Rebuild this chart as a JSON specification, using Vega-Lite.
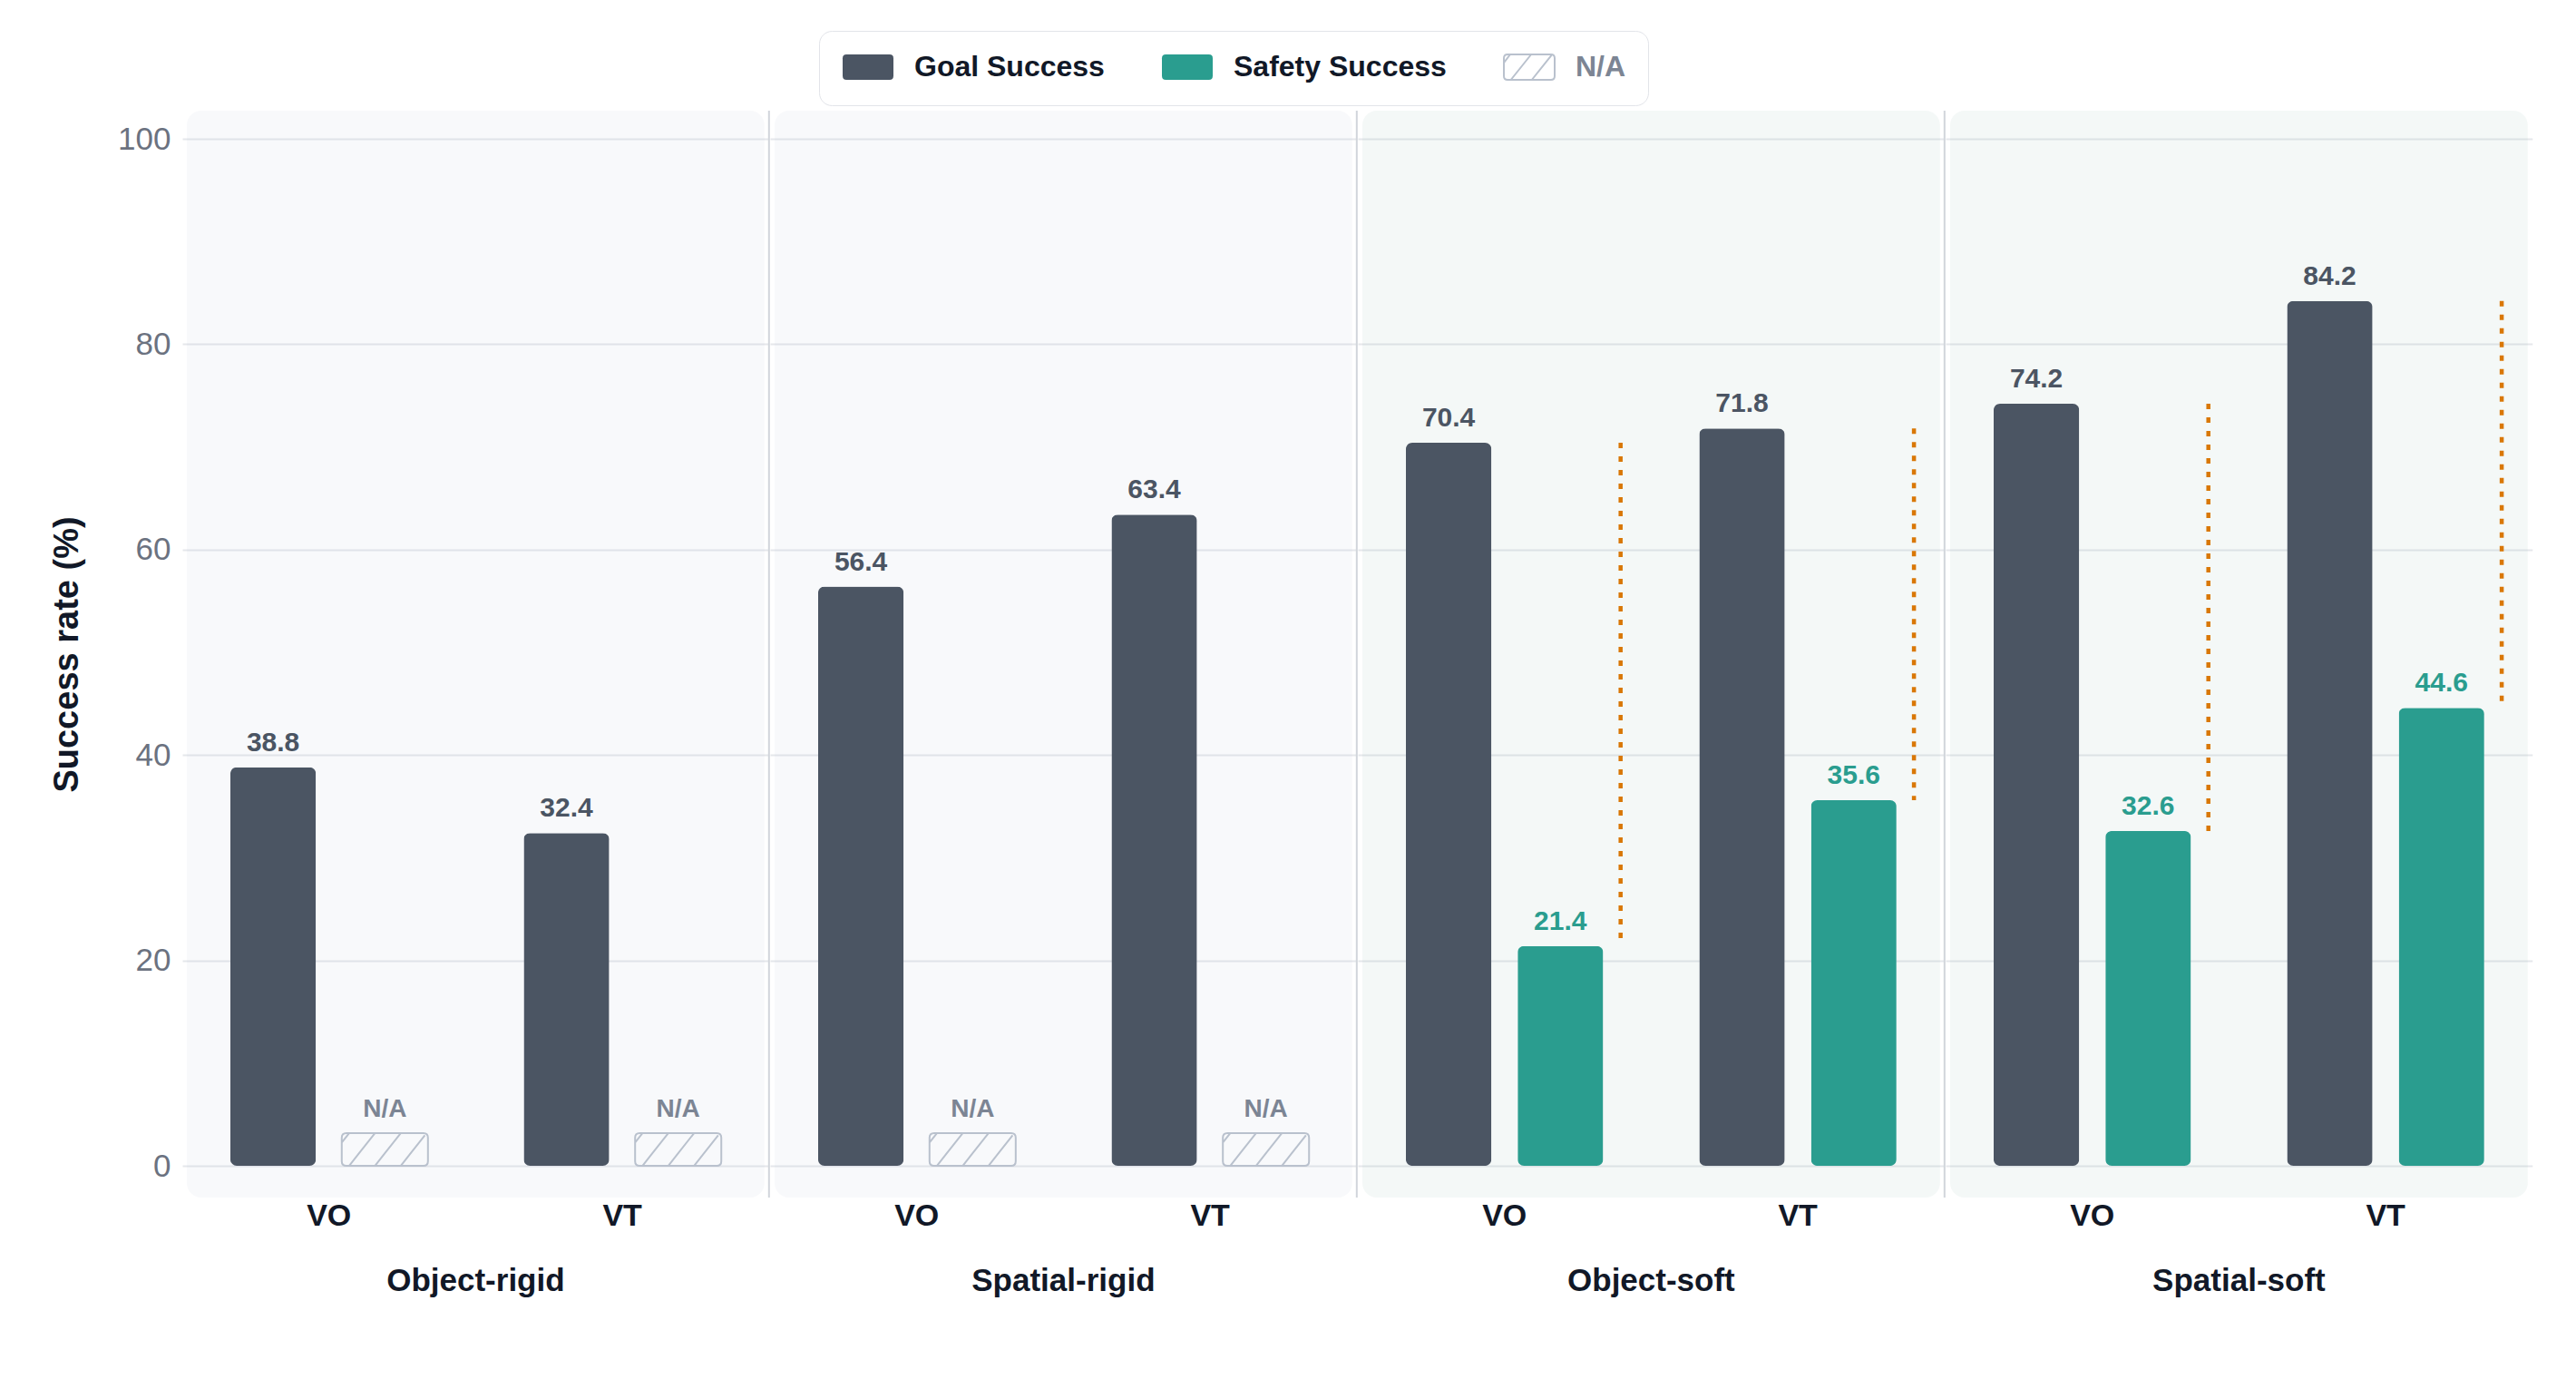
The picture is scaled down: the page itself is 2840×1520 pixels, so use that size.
{
  "$schema": "https://vega.github.io/schema/vega-lite/v6.json",
  "background": "#ffffff",
  "padding": {"left": 55, "top": 33, "right": 40, "bottom": 20},
  "config": {
    "font": "Liberation Sans",
    "view": {"stroke": null}
  },
  "data": {
    "values": [
      {"kind": "bar", "category": "Object-rigid", "variant": "VO", "series": "Goal Success", "value": 38.8},
      {"kind": "bar", "category": "Object-rigid", "variant": "VO", "series": "Safety Success", "value": null},
      {"kind": "bar", "category": "Object-rigid", "variant": "VT", "series": "Goal Success", "value": 32.4},
      {"kind": "bar", "category": "Object-rigid", "variant": "VT", "series": "Safety Success", "value": null},
      {"kind": "bar", "category": "Spatial-rigid", "variant": "VO", "series": "Goal Success", "value": 56.4},
      {"kind": "bar", "category": "Spatial-rigid", "variant": "VO", "series": "Safety Success", "value": null},
      {"kind": "bar", "category": "Spatial-rigid", "variant": "VT", "series": "Goal Success", "value": 63.4},
      {"kind": "bar", "category": "Spatial-rigid", "variant": "VT", "series": "Safety Success", "value": null},
      {"kind": "bar", "category": "Object-soft", "variant": "VO", "series": "Goal Success", "value": 70.4},
      {"kind": "bar", "category": "Object-soft", "variant": "VO", "series": "Safety Success", "value": 21.4},
      {"kind": "bar", "category": "Object-soft", "variant": "VT", "series": "Goal Success", "value": 71.8},
      {"kind": "bar", "category": "Object-soft", "variant": "VT", "series": "Safety Success", "value": 35.6},
      {"kind": "bar", "category": "Spatial-soft", "variant": "VO", "series": "Goal Success", "value": 74.2},
      {"kind": "bar", "category": "Spatial-soft", "variant": "VO", "series": "Safety Success", "value": 32.6},
      {"kind": "bar", "category": "Spatial-soft", "variant": "VT", "series": "Goal Success", "value": 84.2},
      {"kind": "bar", "category": "Spatial-soft", "variant": "VT", "series": "Safety Success", "value": 44.6},
      {"kind": "panel", "category": "Object-rigid", "family": "rigid", "lo": "VO", "hi": "VT", "sep": true},
      {"kind": "panel", "category": "Spatial-rigid", "family": "rigid", "lo": "VO", "hi": "VT", "sep": true},
      {"kind": "panel", "category": "Object-soft", "family": "soft", "lo": "VO", "hi": "VT", "sep": true},
      {"kind": "panel", "category": "Spatial-soft", "family": "soft", "lo": "VO", "hi": "VT", "sep": false}
    ]
  },
  "spacing": 0,
  "facet": {
    "column": {
      "field": "category",
      "type": "nominal",
      "sort": ["Object-rigid", "Spatial-rigid", "Object-soft", "Spatial-soft"],
      "header": {
        "title": null,
        "labelOrient": "bottom",
        "labelFontSize": 35,
        "labelFontWeight": "bold",
        "labelColor": "#111827",
        "labelPadding": 38
      }
    }
  },
  "spec": {
    "width": 646.8,
    "height": 1198,
    "layer": [
      {
        "transform": [{"filter": "datum.kind === 'panel'"}],
        "mark": {"type": "rect", "cornerRadius": 16, "xOffset": 5, "x2Offset": -5, "fillOpacity": 0.1},
        "encoding": {
          "x": {"field": "lo", "type": "nominal", "bandPosition": 0,
                "scale": {"domain": ["VO", "VT"], "paddingInner": 0, "paddingOuter": 0},
                "axis": {"title": null, "domain": false, "ticks": false, "grid": false, "labelAngle": 0,
                         "labelFontSize": 34, "labelFontWeight": "bold", "labelColor": "#111827", "labelPadding": 2}},
          "x2": {"field": "hi", "bandPosition": 1},
          "y": {"datum": 102.74, "type": "quantitative",
                "scale": {"domain": [-3.09, 102.74], "nice": false, "zero": false},
                "axis": {"title": "Success rate (%)", "values": [0, 20, 40, 60, 80, 100],
                         "grid": true, "gridColor": "#e5e7eb", "gridWidth": 2,
                         "domain": false, "ticks": false, "labelFontSize": 35, "labelColor": "#6b7280",
                         "labelPadding": 13, "titleFontSize": 38, "titleFontWeight": "bold",
                         "titleColor": "#111827", "titlePadding": 36}},
          "y2": {"datum": -3.09},
          "fill": {
            "condition": {"test": "datum.family === 'soft'", "value": "#91b9af"},
            "value": "#b9c3d7"
          }
        }
      },
      {
        "transform": [{"filter": "datum.kind === 'panel' && datum.sep"}],
        "mark": {"type": "rule", "stroke": "#d1d5db", "strokeWidth": 2},
        "encoding": {
          "x": {"field": "hi", "type": "nominal", "bandPosition": 1},
          "y": {"datum": 102.74, "type": "quantitative"},
          "y2": {"datum": -3.09}
        }
      },
      {
        "transform": [{"filter": "datum.kind === 'bar' && isValid(datum.value)"}],
        "mark": {"type": "bar", "cornerRadius": 7},
        "encoding": {
          "x": {"field": "variant", "type": "nominal"},
          "xOffset": {
            "field": "series", "type": "nominal",
            "scale": {"domain": ["Goal Success", "Safety Success"], "paddingInner": 0.235, "paddingOuter": 0.43}
          },
          "y": {"field": "value", "type": "quantitative"},
          "color": {
            "field": "series", "type": "nominal",
            "scale": {"domain": ["Goal Success", "Safety Success", "N/A"], "range": ["#4b5563", "#2a9d8f", "#ffffff"]},
            "legend": {
              "orient": "none", "legendX": 702, "legendY": -88, "direction": "horizontal",
              "title": null, "labelFontSize": 32, "labelFontWeight": "bold",
              "labelExpr": "datum.label === 'N/A' ? 'N/A\u00a0\u00a0\u00a0\u00a0\u00a0\u00a0\u00a0' : datum.label",
              "labelColor": {"expr": "datum.value === 'N/A' ? '#7c8594' : '#111827'"},
              "labelLimit": 600, "symbolSize": 784, "labelOffset": 49, "columnPadding": 59,
              "symbolType": {"expr": "datum.value === 'N/A' ? 'M-0.7,-1L2.7,-1Q3,-1 3,-0.7L3,0.7Q3,1 2.7,1L-0.7,1Q-1,1 -1,0.7L-1,-0.7Q-1,-1 -0.7,-1ZM-1,-0.35L-0.5,-1M-0.45,1L1.15,-1M1.2,1L2.75,-0.94' : 'M-0.7,-1L2.7,-1Q3,-1 3,-0.7L3,0.7Q3,1 2.7,1L-0.7,1Q-1,1 -1,0.7L-1,-0.7Q-1,-1 -0.7,-1Z'"},
              "symbolStrokeColor": {"expr": "datum.value === 'N/A' ? '#b9c1cd' : 'transparent'"},
              "symbolStrokeWidth": 2,
              "padding": 24, "fillColor": "#ffffff", "strokeColor": "#e2e4e9", "cornerRadius": 14
            }
          }
        }
      },
      {
        "transform": [{"filter": "datum.kind === 'bar' && !isValid(datum.value)"}],
        "mark": {
          "type": "point", "filled": false, "opacity": 1, "size": 1296, "yOffset": -18,
          "stroke": "#b9c1cd", "strokeWidth": 2,
          "shape": "M-2.36,-1L2.36,-1Q2.64,-1 2.64,-0.72L2.64,0.72Q2.64,1 2.36,1L-2.36,1Q-2.64,1 -2.64,0.72L-2.64,-0.72Q-2.64,-1 -2.36,-1ZM-2.64,-0.43L-2.19,-1M-2.19,1L-0.61,-1M-0.61,1L0.97,-1M0.97,1L2.45,-0.87"
        },
        "encoding": {
          "x": {"field": "variant", "type": "nominal"},
          "xOffset": {"field": "series", "type": "nominal"},
          "y": {"datum": 0, "type": "quantitative"}
        }
      },
      {
        "transform": [
          {"filter": "datum.kind === 'bar'"},
          {"pivot": "series", "value": "value", "groupby": ["category", "variant"]},
          {"filter": "isValid(datum['Safety Success'])"}
        ],
        "mark": {"type": "rule", "stroke": "#d97706", "strokeWidth": 4.5, "strokeDash": [6, 9], "xOffset": 128},
        "encoding": {
          "x": {"field": "variant", "type": "nominal"},
          "y": {"field": "Goal Success", "type": "quantitative"},
          "y2": {"field": "Safety Success"}
        }
      },
      {
        "transform": [{"filter": "datum.kind === 'bar' && isValid(datum.value)"}],
        "mark": {"type": "text", "dy": -18, "baseline": "alphabetic", "fontSize": 30, "fontWeight": "bold"},
        "encoding": {
          "x": {"field": "variant", "type": "nominal"},
          "xOffset": {"field": "series", "type": "nominal"},
          "y": {"field": "value", "type": "quantitative"},
          "text": {"field": "value", "type": "quantitative", "format": ".1f"},
          "color": {
            "condition": {"test": "datum.series === 'Safety Success'", "value": "#2a9d8f"},
            "value": "#4b5563"
          }
        }
      },
      {
        "transform": [{"filter": "datum.kind === 'bar' && !isValid(datum.value)"}],
        "mark": {"type": "text", "dy": -54, "baseline": "alphabetic", "fontSize": 28, "fontWeight": "bold", "fill": "#7c8594"},
        "encoding": {
          "x": {"field": "variant", "type": "nominal"},
          "xOffset": {"field": "series", "type": "nominal"},
          "y": {"datum": 0, "type": "quantitative"},
          "text": {"value": "N/A"}
        }
      }
    ]
  }
}
